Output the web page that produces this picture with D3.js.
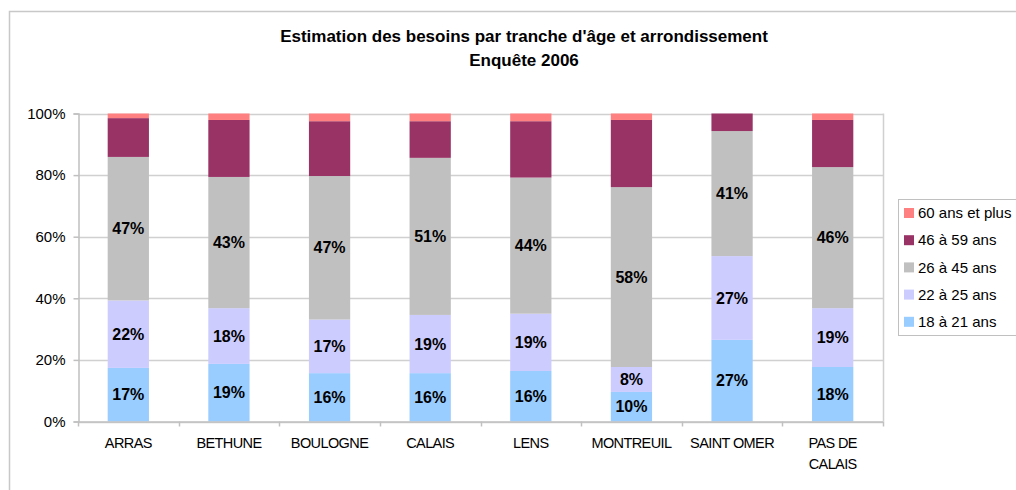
<!DOCTYPE html>
<html>
<head>
<meta charset="utf-8">
<script src="https://cdn.jsdelivr.net/npm/d3@7"></script>
<style>
  body { margin: 0; background: #fff; }
  svg { font-family: "Liberation Sans", Arial, sans-serif; }
</style>
</head>
<body>
<svg width="1016" height="490"></svg>
<script>
// categories (arrondissements)
var categories = ["ARRAS", "BETHUNE", "BOULOGNE", "CALAIS", "LENS", "MONTREUIL", "SAINT OMER", "PAS DE CALAIS"];

// series, bottom to top, in % of each bar
var series = ["18 à 21 ans", "22 à 25 ans", "26 à 45 ans", "46 à 59 ans", "60 ans et plus"];
var v18_21 = [17.4, 18.7, 15.7, 15.7, 16.4, 9.6, 26.5, 17.7];
var v22_25 = [21.9, 18.1, 17.4, 18.9, 18.6, 8.1, 27.2, 19.1];
var v26_45 = [46.6, 42.6, 46.6, 51.0, 44.2, 58.4, 40.6, 45.8];
var v46_59 = [12.6, 18.5, 17.8, 11.9, 18.3, 21.8, 5.7, 15.3];
var v60 = [1.5, 2.1, 2.5, 2.5, 2.5, 2.1, 0, 2.1];

var yTicks = [0, 20, 40, 60, 80, 100];

var colors = ["#99ccff", "#ccccff", "#c0c0c0", "#993366", "#ff8080"];

var svg = d3.select("svg");

var margin = {left: 78, top: 113.5, right: 883, bottom: 421.5};

// build rows for stack
var keys = ["a", "b", "c", "d", "e"];
var rows = categories.map(function(c, i) {
  return {cat: c, a: v18_21[i], b: v22_25[i], c: v26_45[i], d: v46_59[i], e: v60[i]};
});
var stacked = d3.stack().keys(keys)(rows);

var x = d3.scaleBand()
    .domain(categories)
    .range([margin.left, margin.right])
    .paddingInner(0.59)
    .paddingOuter(0.295);

var y = d3.scaleLinear()
    .domain([0, 100])
    .range([margin.bottom, margin.top]);

// outer chart border (cut by the window)
svg.append("rect")
    .attr("x", 9.5).attr("y", 11.5)
    .attr("width", 1100).attr("height", 600)
    .attr("fill", "none")
    .attr("stroke", "#c8c8c8")
    .attr("stroke-width", 1.5);

// title
svg.append("text")
    .attr("x", 524).attr("y", 42)
    .attr("text-anchor", "middle")
    .style("font-weight", "bold")
    .style("font-size", "17px")
    .text("Estimation des besoins par tranche d'âge et arrondissement");
svg.append("text")
    .attr("x", 524).attr("y", 66)
    .attr("text-anchor", "middle")
    .style("font-weight", "bold")
    .style("font-size", "17px")
    .text("Enquête 2006");

// gridlines
svg.append("g")
  .selectAll("line")
  .data(yTicks)
  .enter().append("line")
    .attr("x1", margin.left).attr("x2", margin.right)
    .attr("y1", function(d) { return Math.round(y(d)) + 0.5; })
    .attr("y2", function(d) { return Math.round(y(d)) + 0.5; })
    .attr("stroke", "#d0d0d0")
    .attr("stroke-width", 1.5);

// right border of plot area
svg.append("line")
    .attr("x1", margin.right + 0.5).attr("x2", margin.right + 0.5)
    .attr("y1", margin.top).attr("y2", margin.bottom)
    .attr("stroke", "#d0d0d0")
    .attr("stroke-width", 1.5);

// bars
svg.append("g")
  .selectAll("g")
  .data(stacked)
  .enter().append("g")
    .attr("fill", function(d, i) { return colors[i]; })
  .selectAll("rect")
  .data(function(d) { return d; })
  .enter().append("rect")
    .attr("x", function(d) { return x(d.data.cat); })
    .attr("width", x.bandwidth())
    .attr("y", function(d) { return y(d[1]); })
    .attr("height", function(d) { return y(d[0]) - y(d[1]); });

// data labels for the three lower series
svg.append("g")
  .selectAll("g")
  .data(stacked.slice(0, 3))
  .enter().append("g")
  .selectAll("text")
  .data(function(d) { return d; })
  .enter().append("text")
    .attr("x", function(d) { return x(d.data.cat) + x.bandwidth() / 2; })
    .attr("y", function(d) { return y((d[0] + d[1]) / 2); })
    .attr("dy", "0.35em")
    .attr("text-anchor", "middle")
    .style("font-weight", "bold")
    .style("font-size", "16px")
    .attr("fill", "#000")
    .text(function(d) { return Math.round(d[1] - d[0]) + "%"; });

// y axis
var yAxis = svg.append("g")
    .attr("transform", "translate(" + (margin.left + 0.5) + ",0)")
    .call(d3.axisLeft(y).tickValues(yTicks).tickSize(5).tickPadding(8)
      .tickFormat(function(d) { return d + "%"; }));
yAxis.select(".domain").attr("stroke", "#c0c0c0").attr("stroke-width", 1.5);
yAxis.selectAll(".tick line").attr("stroke", "#c0c0c0").attr("stroke-width", 1.5);
yAxis.selectAll(".tick text")
    .attr("fill", "#000")
    .style("font-size", "15px")
    .style("font-family", "'Liberation Sans', Arial, sans-serif");

// x axis: baseline and ticks at category boundaries
var step = x.step();
var bounds = d3.range(categories.length + 1).map(function(i) { return margin.left + i * step; });
svg.append("line")
    .attr("x1", margin.left).attr("x2", margin.right)
    .attr("y1", margin.bottom + 0.5).attr("y2", margin.bottom + 0.5)
    .attr("stroke", "#c0c0c0").attr("stroke-width", 1.5);
svg.append("g")
  .selectAll("line")
  .data(bounds)
  .enter().append("line")
    .attr("x1", function(d) { return Math.round(d) + 0.5; })
    .attr("x2", function(d) { return Math.round(d) + 0.5; })
    .attr("y1", margin.bottom).attr("y2", margin.bottom + 5)
    .attr("stroke", "#c0c0c0").attr("stroke-width", 1.5);

// category labels (PAS DE CALAIS wraps)
svg.append("g")
  .selectAll("text")
  .data(categories)
  .enter().append("text")
    .attr("x", function(d) { return x(d) + x.bandwidth() / 2; })
    .attr("y", 448)
    .attr("text-anchor", "middle")
    .style("font-size", "14.5px")
    .style("letter-spacing", "-0.6px")
    .each(function(d) {
      var t = d3.select(this);
      var lines = d == "PAS DE CALAIS" ? ["PAS DE", "CALAIS"] : [d];
      lines.forEach(function(l, i) {
        t.append("tspan")
          .attr("x", x(d) + x.bandwidth() / 2)
          .attr("dy", i == 0 ? 0 : 21)
          .text(l);
      });
    });

// legend
var legend = svg.append("g");
legend.append("rect")
    .attr("x", 898.5).attr("y", 199.5)
    .attr("width", 140).attr("height", 136)
    .attr("fill", "#fff")
    .attr("stroke", "#c0c0c0");
var items = legend.selectAll("g")
  .data(series.slice().reverse())
  .enter().append("g")
    .attr("transform", function(d, i) { return "translate(904," + (213 + i * 27.2) + ")"; });
items.append("rect")
    .attr("x", 0).attr("y", -5)
    .attr("width", 10).attr("height", 10)
    .attr("fill", function(d, i) { return colors[4 - i]; });
items.append("text")
    .attr("x", 14).attr("y", 0)
    .attr("dy", "0.35em")
    .style("font-size", "15px")
    .text(function(d) { return d; });
</script>
</body>
</html>
